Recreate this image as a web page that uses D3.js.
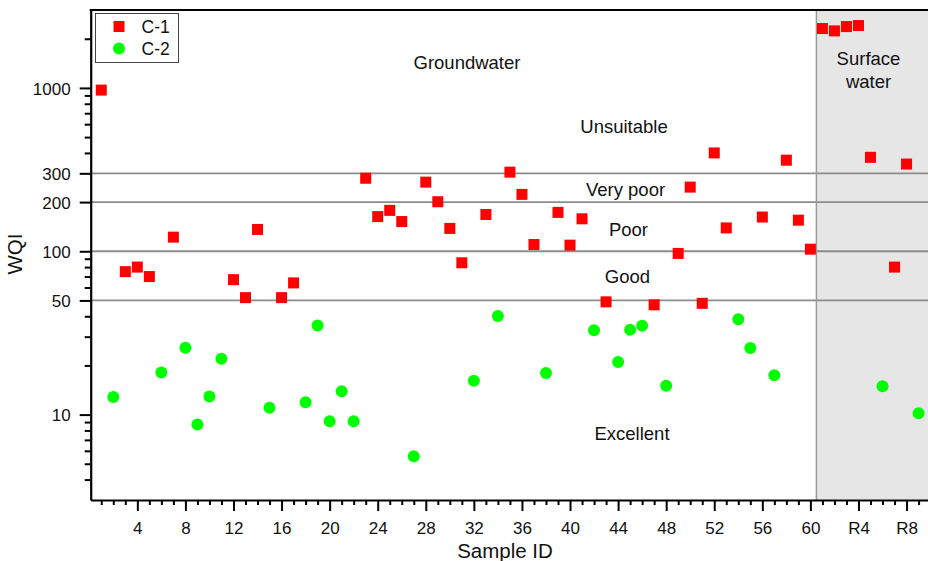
<!DOCTYPE html>
<html>
<head>
<meta charset="utf-8">
<script src="https://cdn.jsdelivr.net/npm/d3@7"></script>
<style>
  html, body { margin: 0; padding: 0; background: #fff; }
  svg { display: block; font-family: Arial, "Liberation Sans", Helvetica, sans-serif; }
</style>
</head>
<body>
<svg id="chart" width="928" height="561"></svg>
<script>
// Sample identifiers: 60 groundwater wells followed by 9 river (surface water) sites
const sampleIds = [
  "1","2","3","4","5","6","7","8","9","10",
  "11","12","13","14","15","16","17","18","19","20",
  "21","22","23","24","25","26","27","28","29","30",
  "31","32","33","34","35","36","37","38","39","40",
  "41","42","43","44","45","46","47","48","49","50",
  "51","52","53","54","55","56","57","58","59","60",
  "R1","R2","R3","R4","R5","R6","R7","R8","R9"
];

// WQI of samples in cluster C-1 (null = sample belongs to C-2)
const c1Values = [
  970, null, 75, 80, 70, null, 122, null, null, null,
  null, 67, 52, 136, null, 52, 64, null, null, null,
  null, null, 280, 163, 178, 152, null, 265, 201, 138,
  85, null, 168, null, 305, 223, 110, null, 173, 109,
  158, null, 49, null, null, null, 47, null, 97, 247,
  48, 400, 139, null, null, 162, null, 361, 155, 103,
  2310, 2235, 2375, 2410, 376, null, 80, 342, null
];

// WQI of samples in cluster C-2 (null = sample belongs to C-1)
const c2Values = [
  null, 12.8, null, null, null, 18.1, null, 25.7, 8.7, 12.9,
  22.0, null, null, null, 11.0, null, null, 11.9, 35.1, 9.1,
  13.9, 9.1, null, null, null, null, 5.55, null, null, null,
  null, 16.1, null, 40.2, null, null, null, 18.0, null, null,
  null, 32.8, null, 21.0, 33.1, 35.0, null, 15.0, null, null,
  null, null, null, 38.3, 25.6, null, 17.4, null, null, null,
  null, null, null, null, null, 14.9, null, null, 10.2
];

const xTickLabels = ["4","8","12","16","20","24","28","32","36","40","44","48","52","56","60","R4","R8"];
const yTickLabels = [10, 50, 100, 200, 300, 1000];
const yMinorTicks = [4,5,6,7,8,9,20,30,40,60,70,80,90,400,500,600,700,800,900,2000];

// WQI class thresholds and class names
const thresholds = [50, 100, 200, 300];
const classNames = ["Excellent", "Good", "Poor", "Very poor", "Unsuitable"];

const seriesNames = ["C-1", "C-2"];
const seriesColors = ["#ff0000", "#00ff00"];

const svg = d3.select("#chart");
const W = 928, H = 561;
const plot = { left: 90.7, right: 930.6, top: 10, bottom: 500 };

const x = d3.scaleLinear().domain([0.12, 70]).range([plot.left, plot.right]);
const y = d3.scaleLog().domain([3, 3000]).range([plot.bottom, plot.top]);

const posOf = id => sampleIds.indexOf(id) + 1;
const firstRiver = sampleIds.indexOf("R1") + 1;

// Surface water panel
const swLeft = x(firstRiver - 0.5);
svg.append("rect")
  .attr("x", swLeft).attr("y", plot.top)
  .attr("width", W - swLeft + 5).attr("height", plot.bottom - plot.top)
  .attr("fill", "#e6e6e6");

// Class threshold lines
svg.append("g").selectAll("line")
  .data(thresholds).join("line")
  .attr("x1", plot.left).attr("x2", W + 5)
  .attr("y1", d => y(d)).attr("y2", d => y(d))
  .attr("stroke", "#8c8c8c").attr("stroke-width", 1.8);

svg.append("line")
  .attr("x1", swLeft).attr("x2", swLeft)
  .attr("y1", plot.top).attr("y2", plot.bottom)
  .attr("stroke", "#9a9a9a").attr("stroke-width", 1.5);

// Region and class annotations
const notes = [
  { t: "Groundwater", x: 467, y: 69 },
  { t: classNames[4], x: 624, y: 133 },
  { t: classNames[3], x: 625.5, y: 196 },
  { t: classNames[2], x: 628.5, y: 236 },
  { t: classNames[1], x: 627.5, y: 283 },
  { t: classNames[0], x: 632, y: 440 },
  { t: "Surface", x: 868.5, y: 65 },
  { t: "water", x: 868.5, y: 88 }
];
svg.append("g").selectAll("text")
  .data(notes).join("text")
  .attr("x", d => d.x).attr("y", d => d.y)
  .attr("text-anchor", "middle")
  .attr("font-size", 18.5).attr("fill", "#111")
  .text(d => d.t);

// Markers
const c1 = sampleIds.map((id, i) => ({ pos: i + 1, v: c1Values[i] })).filter(d => d.v != null);
const c2 = sampleIds.map((id, i) => ({ pos: i + 1, v: c2Values[i] })).filter(d => d.v != null);
const sq = 11;
svg.append("g").selectAll("rect")
  .data(c1).join("rect")
  .attr("x", d => x(d.pos) - sq / 2).attr("y", d => y(d.v) - sq / 2)
  .attr("width", sq).attr("height", sq)
  .attr("fill", seriesColors[0]);
svg.append("g").selectAll("circle")
  .data(c2).join("circle")
  .attr("cx", d => x(d.pos)).attr("cy", d => y(d.v))
  .attr("r", 6)
  .attr("fill", seriesColors[1]);

// X axis: labelled major ticks and unlabelled minor ticks
const majorPos = xTickLabels.map(posOf);
const minorPos = sampleIds.map((id, i) => i + 1).filter(p => !majorPos.includes(p));
const xMinor = svg.append("g").attr("transform", `translate(0,${plot.bottom})`)
  .call(d3.axisBottom(x).tickValues(minorPos).tickSize(5).tickFormat(""));
const xMajor = svg.append("g").attr("transform", `translate(0,${plot.bottom})`)
  .call(d3.axisBottom(x).tickValues(majorPos).tickSize(11).tickSizeOuter(0)
    .tickFormat(p => sampleIds[p - 1]));
xMinor.select(".domain").remove();
xMajor.select(".domain").attr("stroke-width", 2.2);
xMajor.selectAll(".tick text").attr("font-size", 17).attr("fill", "#111").attr("y", 22).attr("dy", "0.71em");
[xMinor, xMajor].forEach(g => g.selectAll(".tick line").attr("stroke-width", 2));

// Y axis
const yMinor = svg.append("g").attr("transform", `translate(${plot.left},0)`)
  .call(d3.axisLeft(y).tickValues(yMinorTicks).tickSize(6).tickFormat(""));
const yMajor = svg.append("g").attr("transform", `translate(${plot.left},0)`)
  .call(d3.axisLeft(y).tickValues(yTickLabels).tickSize(11).tickSizeOuter(0)
    .tickFormat(d3.format("d")));
yMinor.select(".domain").remove();
yMajor.select(".domain").attr("stroke-width", 2.2);
yMajor.selectAll(".tick text").attr("font-size", 17).attr("fill", "#111").attr("x", -20).attr("dy", "0.36em");
[yMinor, yMajor].forEach(g => g.selectAll(".tick line").attr("stroke-width", 2));

// Top frame line
svg.append("line")
  .attr("x1", plot.left - 1).attr("x2", W + 5)
  .attr("y1", plot.top).attr("y2", plot.top)
  .attr("stroke", "#000").attr("stroke-width", 2.2);

// Axis titles
svg.append("text")
  .attr("x", 505).attr("y", 558)
  .attr("text-anchor", "middle").attr("font-size", 20.5).attr("fill", "#111")
  .text("Sample ID");
svg.append("text")
  .attr("transform", "translate(22,254) rotate(-90)")
  .attr("text-anchor", "middle").attr("font-size", 20.5).attr("fill", "#111")
  .text("WQI");

// Legend
const lg = svg.append("g");
lg.append("rect")
  .attr("x", 95.5).attr("y", 13.5).attr("width", 83).attr("height", 49)
  .attr("fill", "#fff").attr("stroke", "#444").attr("stroke-width", 1);
lg.append("rect")
  .attr("x", 119 - sq / 2).attr("y", 26.5 - sq / 2).attr("width", sq).attr("height", sq)
  .attr("fill", seriesColors[0]);
lg.append("circle").attr("cx", 119).attr("cy", 48.5).attr("r", 6).attr("fill", seriesColors[1]);
lg.selectAll("text").data(seriesNames).join("text")
  .attr("x", 141.5).attr("y", (d, i) => 32.5 + i * 22)
  .attr("font-size", 17.5).attr("fill", "#111")
  .text(d => d);
</script>
</body>
</html>
